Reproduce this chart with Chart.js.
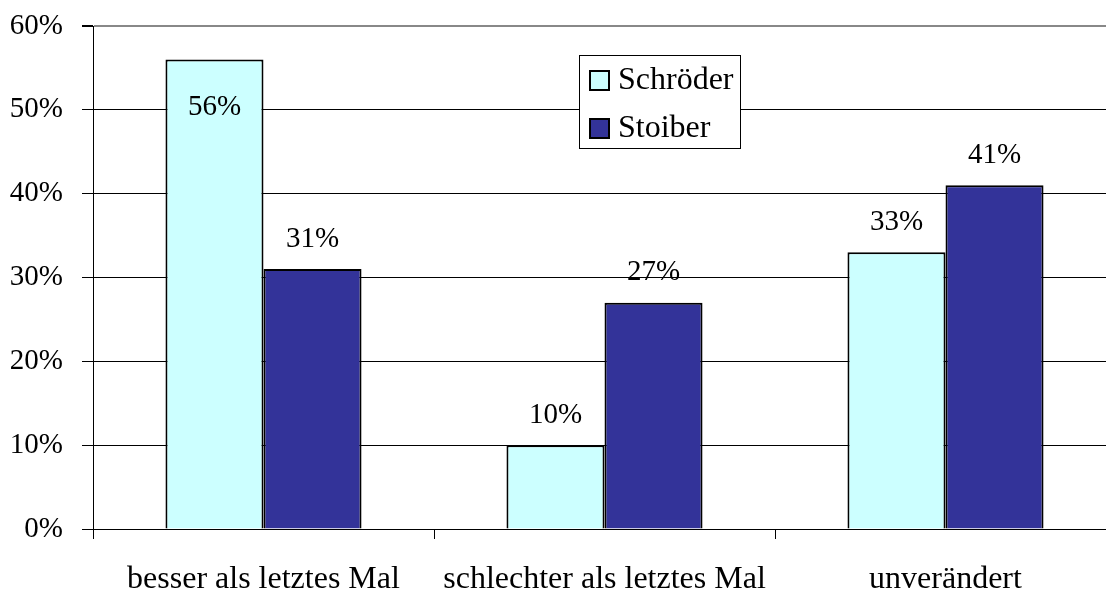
<!DOCTYPE html>
<html>
<head>
<meta charset="utf-8">
<script src="https://cdn.jsdelivr.net/npm/chart.js@4/dist/chart.umd.min.js"></script>
<style>
  html, body { margin: 0; padding: 0; background: #fff; overflow: hidden; }
  canvas { display: block; }
</style>
</head>
<body>
<canvas id="chart" width="1122" height="589"></canvas>
<script>
const categories = ["besser als letztes Mal", "schlechter als letztes Mal", "unverändert"];
const schroeder = [56, 10, 33];
const stoiber = [31, 27, 41];
const seriesNames = ["Schröder", "Stoiber"];
const seriesColors = ["#CCFFFF", "#333399"];

const FONT = '"Liberation Serif", "Times New Roman", serif';

// value labels above bars (inside if too close to the top)
const valueLabels = {
  id: "valueLabels",
  afterDatasetsDraw(chart) {
    const ctx = chart.ctx;
    ctx.save();
    ctx.font = "29px " + FONT;
    ctx.fillStyle = "#000";
    ctx.textAlign = "center";
    ctx.textBaseline = "middle";
    chart.data.datasets.forEach((ds, i) => {
      chart.getDatasetMeta(i).data.forEach((bar, j) => {
        let y = bar.y - 30;
        if (y - 16 < chart.chartArea.top + 10) y = bar.y + 48;
        ctx.fillText(ds.data[j] + "%", bar.x, y);
      });
    });
    ctx.restore();
  }
};

// boxed legend inside the plot
const boxLegend = {
  id: "boxLegend",
  afterDraw(chart) {
    const ctx = chart.ctx;
    const x0 = 579, y0 = 55, w = 161, h = 93;
    ctx.save();
    ctx.fillStyle = "#fff";
    ctx.fillRect(x0, y0, w, h);
    ctx.strokeStyle = "#000";
    ctx.lineWidth = 1;
    ctx.strokeRect(x0 + 0.5, y0 + 0.5, w, h);
    ctx.font = "32px " + FONT;
    ctx.textBaseline = "middle";
    chart.data.datasets.forEach((ds, i) => {
      const cy = y0 + 25 + i * 48;
      ctx.fillStyle = ds.backgroundColor;
      ctx.fillRect(x0 + 11, cy - 9, 19, 19);
      ctx.lineWidth = 2;
      ctx.strokeRect(x0 + 11, cy - 9, 19, 19);
      ctx.fillStyle = "#000";
      ctx.fillText(ds.label, x0 + 39, cy + 1);
    });
    ctx.restore();
  }
};

new Chart(document.getElementById("chart"), {
  type: "bar",
  data: {
    labels: categories,
    datasets: [
      { label: seriesNames[0], data: schroeder, backgroundColor: seriesColors[0], borderColor: "#000", borderWidth: 2 },
      { label: seriesNames[1], data: stoiber, backgroundColor: seriesColors[1], borderColor: "#000", borderWidth: 2 }
    ]
  },
  options: {
    responsive: false,
    animation: false,
    devicePixelRatio: 1,
    layout: { padding: { top: 26, right: 6, left: 0, bottom: 0 } },
    datasets: { bar: { categoryPercentage: 0.575, barPercentage: 1 } },
    plugins: { legend: { display: false }, tooltip: { enabled: false } },
    scales: {
      x: {
        afterFit: s => { s.height = 60; s.paddingLeft = 0; s.paddingRight = 0; },
        grid: { drawOnChartArea: false, offset: true, tickLength: 10, color: "#000", tickColor: "#000" },
        border: { color: "#000", width: 1 },
        ticks: { font: { family: FONT, size: 32 }, color: "#000", padding: 21, maxRotation: 0 }
      },
      y: {
        min: 0,
        max: 60,
        afterFit: s => { s.width = 93; s.paddingTop = 0; s.paddingBottom = 0; },
        grid: {
          color: c => (c.tick && c.tick.value === 60 ? "#888" : "#000"),
          lineWidth: c => (c.tick && c.tick.value === 60 ? 2 : 1),
          tickLength: 11,
          tickColor: "#000"
        },
        border: { color: "#000", width: 1 },
        ticks: {
          stepSize: 10,
          font: { family: FONT, size: 29 },
          color: "#000",
          padding: 19,
          callback: v => v + "%"
        }
      }
    }
  },
  plugins: [valueLabels, boxLegend]
});
</script>
</body>
</html>
